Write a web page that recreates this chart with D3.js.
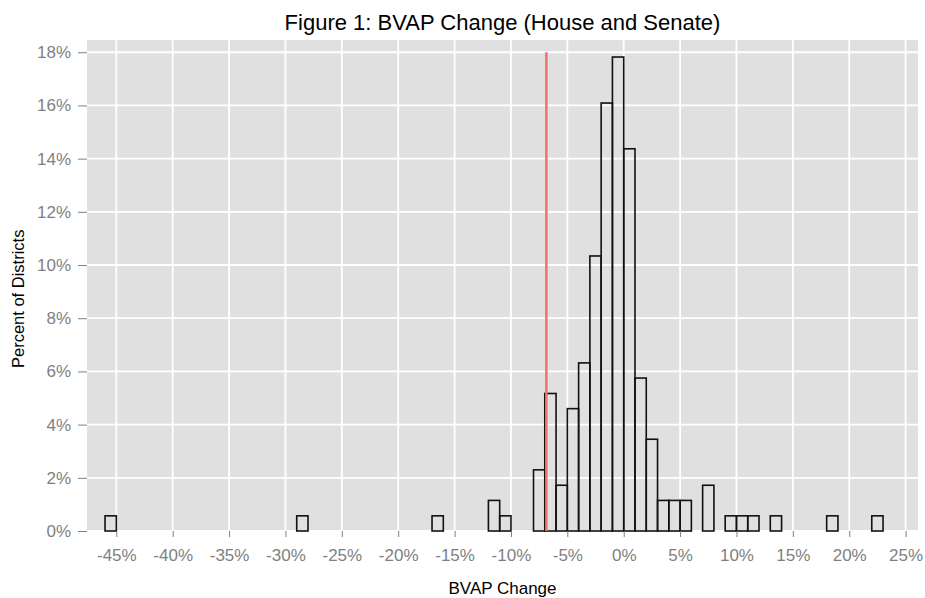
<!DOCTYPE html>
<html>
<head>
<meta charset="utf-8">
<script src="https://cdn.jsdelivr.net/npm/d3@7"></script>
<style>
  body { margin: 0; background: #fff; }
  svg { font-family: "Liberation Sans", Arial, sans-serif; }
</style>
</head>
<body>
<svg id="chart" width="925" height="598"></svg>
<script>
// bin start (percent change), bins are 1 point wide
let binStart = [-46, -29, -17, -12, -11, -8, -7, -6, -5, -4, -3, -2, -1, 0, 1, 2, 3, 4, 5, 7, 9, 10, 11, 13, 18, 22];
// share of districts in each bin (percent)
let binPct = [0.57, 0.57, 0.57, 1.15, 0.57, 2.30, 5.17, 1.72, 4.60, 6.32, 10.34, 16.09, 17.82, 14.37, 5.75, 3.45, 1.15, 1.15, 1.15, 1.72, 0.57, 0.57, 0.57, 0.57, 0.57, 0.57];
let xTicks = [-45, -40, -35, -30, -25, -20, -15, -10, -5, 0, 5, 10, 15, 20, 25];
let yTicks = [0, 2, 4, 6, 8, 10, 12, 14, 16, 18];
let refLine = -6.86;

let svg = d3.select("#chart");
let padLeft = 87, padRight = 918, padTop = 40, padBottom = 531;

let x = d3.scaleLinear()
    .domain([-47.6, 26.1])
    .range([padLeft, padRight]);

let y = d3.scaleLinear()
    .domain([0, 18.46])
    .range([padBottom, padTop]);

// panel background
svg.append("rect")
    .attr("x", padLeft)
    .attr("y", padTop)
    .attr("width", padRight - padLeft)
    .attr("height", padBottom - padTop)
    .attr("fill", "#e0e0e0");

// grid lines
svg.append("g").selectAll("line")
    .data(yTicks)
    .join("line")
    .attr("x1", padLeft).attr("x2", padRight)
    .attr("y1", d => y(d)).attr("y2", d => y(d))
    .attr("stroke", "#fff")
    .attr("stroke-width", 1.8);
svg.append("g").selectAll("line")
    .data(xTicks)
    .join("line")
    .attr("x1", d => x(d)).attr("x2", d => x(d))
    .attr("y1", padTop).attr("y2", padBottom)
    .attr("stroke", "#fff")
    .attr("stroke-width", 1.8);

// histogram bars
svg.append("g").selectAll("rect")
    .data(binStart)
    .join("rect")
    .attr("x", d => x(d))
    .attr("width", d => x(d + 1) - x(d))
    .attr("y", (d, i) => y(binPct[i]))
    .attr("height", (d, i) => y(0) - y(binPct[i]))
    .attr("fill", "none")
    .attr("stroke", "#111")
    .attr("stroke-width", 1.6);

// reference line
svg.append("line")
    .attr("x1", x(refLine)).attr("x2", x(refLine))
    .attr("y1", y(0)).attr("y2", y(18))
    .attr("stroke", "#f27169")
    .attr("stroke-width", 2.5);

// axes
let xAxis = svg.append("g")
    .attr("transform", "translate(0," + padBottom + ")")
    .call(d3.axisBottom(x).tickValues(xTicks).tickSize(6).tickPadding(12).tickFormat(d => d + "%"));
let yAxis = svg.append("g")
    .attr("transform", "translate(" + padLeft + ",0)")
    .call(d3.axisLeft(y).tickValues(yTicks).tickSize(9).tickPadding(7).tickFormat(d => d + "%"));
[xAxis, yAxis].forEach(function(g) {
    g.select(".domain").remove();
    g.selectAll(".tick line").attr("stroke", "#7f7f7f");
    g.selectAll("text")
        .style("font-family", "Liberation Sans, Arial, sans-serif")
        .style("font-size", "17px")
        .attr("fill", "#7f7f7f");
});

// titles
svg.append("text")
    .attr("x", (padLeft + padRight) / 2)
    .attr("y", 30)
    .attr("text-anchor", "middle")
    .style("font-size", "22px")
    .text("Figure 1: BVAP Change (House and Senate)");
svg.append("text")
    .attr("x", (padLeft + padRight) / 2)
    .attr("y", 594)
    .attr("text-anchor", "middle")
    .style("font-size", "17px")
    .text("BVAP Change");
svg.append("text")
    .attr("transform", "translate(24,368) rotate(-90)")
    .attr("text-anchor", "start")
    .style("font-size", "16.5px")
    .text("Percent of Districts");
</script>
</body>
</html>
